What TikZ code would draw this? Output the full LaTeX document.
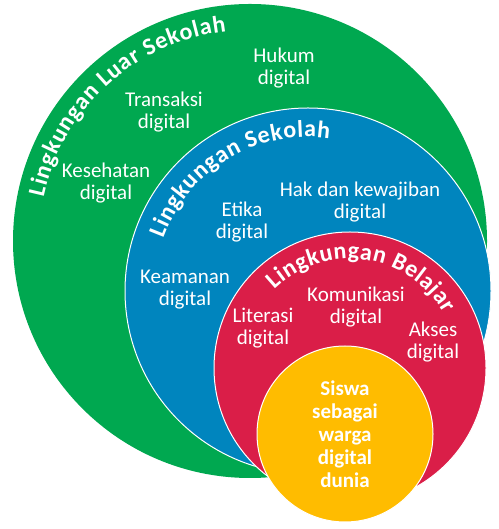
\documentclass[tikz,border=0pt]{standalone}
\usepackage{fontspec}
\setmainfont{Carlito}
\usetikzlibrary{decorations.text}
\definecolor{luar}{RGB}{0,168,80}
\definecolor{sekolah}{RGB}{0,133,190}
\definecolor{belajar}{RGB}{218,30,72}
\definecolor{siswa}{RGB}{255,188,0}
\newcommand{\titlefont}{\fontsize{24}{24}\selectfont\bfseries}
\begin{document}
\begin{tikzpicture}[x=1pt,y=1pt,
  ring/.style={draw=white,line width=1pt},
  lbl/.style={text=white,align=center,inner sep=0pt,font=\fontsize{21}{22}\selectfont},
  pusat/.style={text=white,align=center,inner sep=0pt,font=\fontsize{21}{23}\selectfont\bfseries},
  judul/.style={decorate,decoration={text along path,text color=white,text align={fit to path},text={|\titlefont|#1}}}]
\useasboundingbox (0,0) rectangle (498,529);

% circles, outer to inner
\coordinate (luarC) at (250,288);
\coordinate (sekolahC) at (308,238);
\coordinate (belajarC) at (350,161);
\coordinate (siswaC) at (345,95);
\fill[luar] (luarC) circle[radius=237];
\draw[ring,fill=sekolah] (sekolahC) circle[radius=183];
\draw[ring,fill=belajar] (belajarC) circle[radius=136];
\draw[ring,fill=siswa] (siswaC) circle[radius=88];

% curved titles
\path[judul={Lingkungan Luar Sekolah}] (luarC) ++(168:211) arc[start angle=168,end angle=96.5,radius=211];
\path[judul={Lingkungan Sekolah}] (sekolahC) ++(160:154) arc[start angle=160,end angle=82,radius=154];
\path[judul={Lingkungan Belajar}] (belajarC) ++(134:109) arc[start angle=134,end angle=30,radius=109];

% labels
\node[lbl] (hukum) at (284,461) {Hukum\\digital};
\node[lbl] (transaksi) at (164,417) {Transaksi\\digital};
\node[lbl] (kesehatan) at (106,346) {Kesehatan\\digital};
\node[lbl] (hak) at (360,327) {Hak dan kewajiban\\digital};
\node[lbl] (etika) at (242,307) {Etika\\digital};
\node[lbl] (keamanan) at (185,239) {Keamanan\\digital};
\node[lbl] (komunikasi) at (356,222) {Komunikasi\\digital};
\node[lbl] (literasi) at (263,201) {Literasi\\digital};
\node[lbl] (akses) at (433,187) {Akses\\digital};
\node[pusat] (siswa) at (siswaC) {Siswa\\sebagai\\warga\\digital\\dunia};
\end{tikzpicture}
\end{document}
